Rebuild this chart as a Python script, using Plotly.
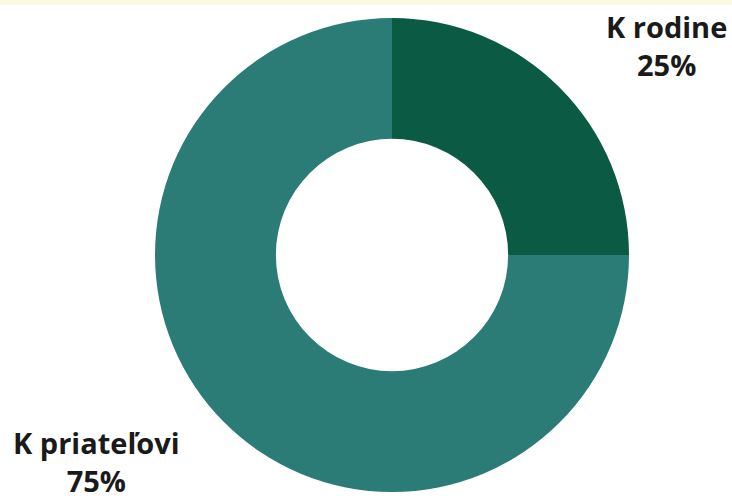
import plotly.graph_objects as go

labels = ["K rodine", "K priateľovi"]
values = [25, 75]
colors = ["#0b5a43", "#2b7b76"]
label_text = ["<b>K rodine</b><br><b>25%</b>", "<b>K priateľovi</b><br><b>75%</b>"]

W, H = 732, 501
cx, cy, r = 392, 255, 237

fig = go.Figure(go.Pie(
    labels=labels, values=values, hole=0.49, sort=False, direction="clockwise",
    rotation=0, marker=dict(colors=colors, line=dict(width=0)),
    textinfo="none", hoverinfo="label+percent", showlegend=False,
    domain=dict(x=[(cx - r) / W, (cx + r) / W], y=[(H - cy - r) / H, (H - cy + r) / H]),
))

fig.add_annotation(x=666 / W, y=1 - 46 / H, xref="paper", yref="paper",
                   xanchor="center", yanchor="middle",
                   text=label_text[0], showarrow=False, align="center",
                   font=dict(family="Open Sans", size=29, color="#1a1a1a"))
fig.add_annotation(x=96 / W, y=1 - 461 / H, xref="paper", yref="paper",
                   xanchor="center", yanchor="middle",
                   text=label_text[1], showarrow=False, align="center",
                   font=dict(family="Open Sans", size=29, color="#1a1a1a"))

fig.add_shape(type="rect", xref="paper", yref="paper", x0=0, x1=1, y0=1 - 5 / H, y1=1,
              fillcolor="#fcf9e6", line=dict(width=0), layer="below")

fig.update_layout(width=W, height=H, margin=dict(l=0, r=0, t=0, b=0),
                  paper_bgcolor="white", plot_bgcolor="white")
fig.write_html("out.html", config={"displayModeBar": False},
               post_script="document.body.style.margin='0';")
